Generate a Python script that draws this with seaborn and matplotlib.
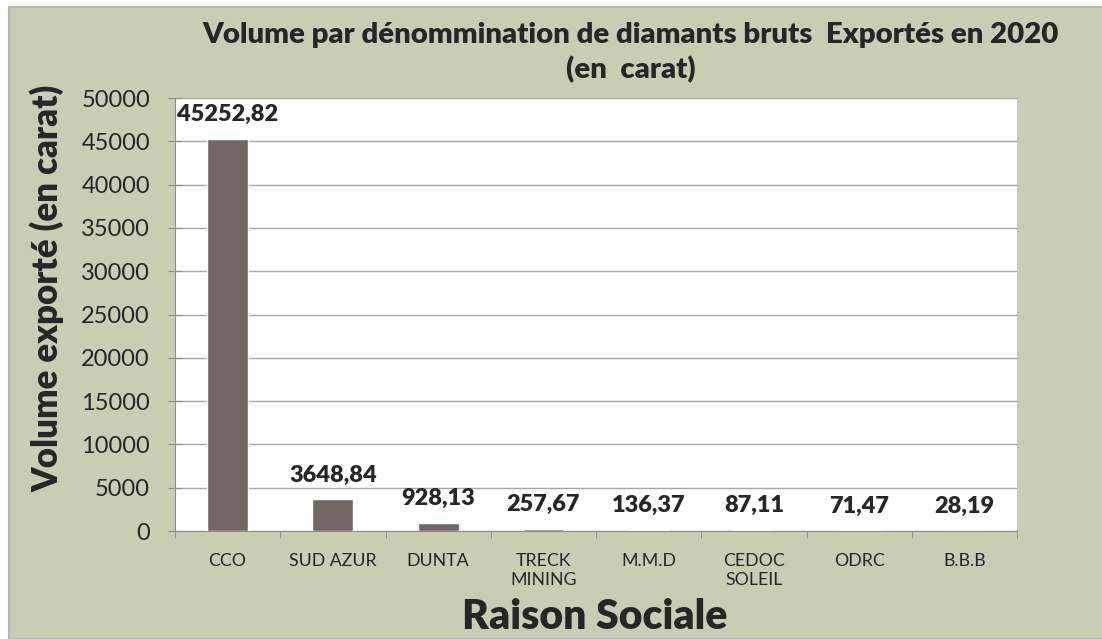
import numpy as np
import pandas as pd
import seaborn as sns
import matplotlib.pyplot as plt
from matplotlib.patches import Rectangle

# données
raisons = ["CCO", "SUD AZUR", "DUNTA", "TRECK\nMINING", "M.M.D",
           "CEDOC\nSOLEIL", "ODRC", "B.B.B"]
volumes = [45252.82, 3648.84, 928.13, 257.67, 136.37, 87.11, 71.47, 28.19]
etiquettes = ["45252,82", "3648,84", "928,13", "257,67", "136,37",
              "87,11", "71,47", "28,19"]
yticks = [0, 5000, 10000, 15000, 20000, 25000, 30000, 35000, 40000, 45000, 50000]


def draw_chart():
    sns.set_style("white")
    plt.rcParams['font.family'] = ['Lato', 'DejaVu Sans']
    df = pd.DataFrame({"raison": raisons, "volume": volumes})

    fig = plt.figure(figsize=(11.02, 6.39), dpi=100, facecolor="white")
    # fond vert du cadre
    fig.patches.append(Rectangle((9 / 1102, 0), 1, 1 - 7 / 639, transform=fig.transFigure,
                                 facecolor="#c9cdb4", edgecolor="#b0b8b8", lw=1.5, zorder=-1))
    ax = fig.add_axes([0.1588, 0.169, 0.7641, 0.6776])
    sns.barplot(data=df, x="raison", y="volume", color="#736766", width=0.39,
                saturation=1, ax=ax, zorder=3)

    ax.set_ylim(0, 50000)
    ax.set_xlim(-0.5, len(raisons) - 0.5)
    ax.set_yticks(yticks)
    ax.set_yticklabels([str(v) for v in yticks], fontsize=17)
    ax.yaxis.grid(True, color="#a6a6a6", lw=1, zorder=0)
    ax.set_axisbelow(True)
    ax.tick_params(axis="y", direction="inout", length=10, color="#8c8c8c", pad=13, left=True)
    ax.tick_params(axis="x", length=0, pad=16, labelsize=12.8)
    ax.set_xticks(np.arange(-0.5, len(raisons)), minor=True)
    ax.tick_params(axis="x", which="minor", length=5, color="#8c8c8c", bottom=True)
    ax.spines["top"].set_visible(False)
    ax.spines["right"].set_color("#c8c8c8")
    for s in ["left", "bottom"]:
        ax.spines[s].set_color("#8c8c8c")

    for i, (v, t) in enumerate(zip(volumes, etiquettes)):
        ax.annotate(t, (i, v), xytext=(0, 10), textcoords="offset points",
                    ha="center", va="bottom", fontsize=16.9, fontweight="heavy")

    ax.set_xlabel("")
    ax.set_ylabel("")
    fig.text(0.043, 0.549, "Volume exporté (en carat)", rotation=90, ha="center",
             va="center", fontsize=25, fontweight="heavy")
    fig.text(0.54, 0.034, "Raison Sociale", ha="center", va="center",
             fontsize=29.5, fontweight="heavy")
    fig.text(0.572, 0.917, "Volume par dénommination de diamants bruts  Exportés en 2020\n(en  carat)",
             ha="center", va="center", fontsize=21.2, fontweight="heavy", linespacing=1.35)

    fig.savefig("out.png", dpi=100, facecolor="white")


if __name__ == '__main__':
    draw_chart()
